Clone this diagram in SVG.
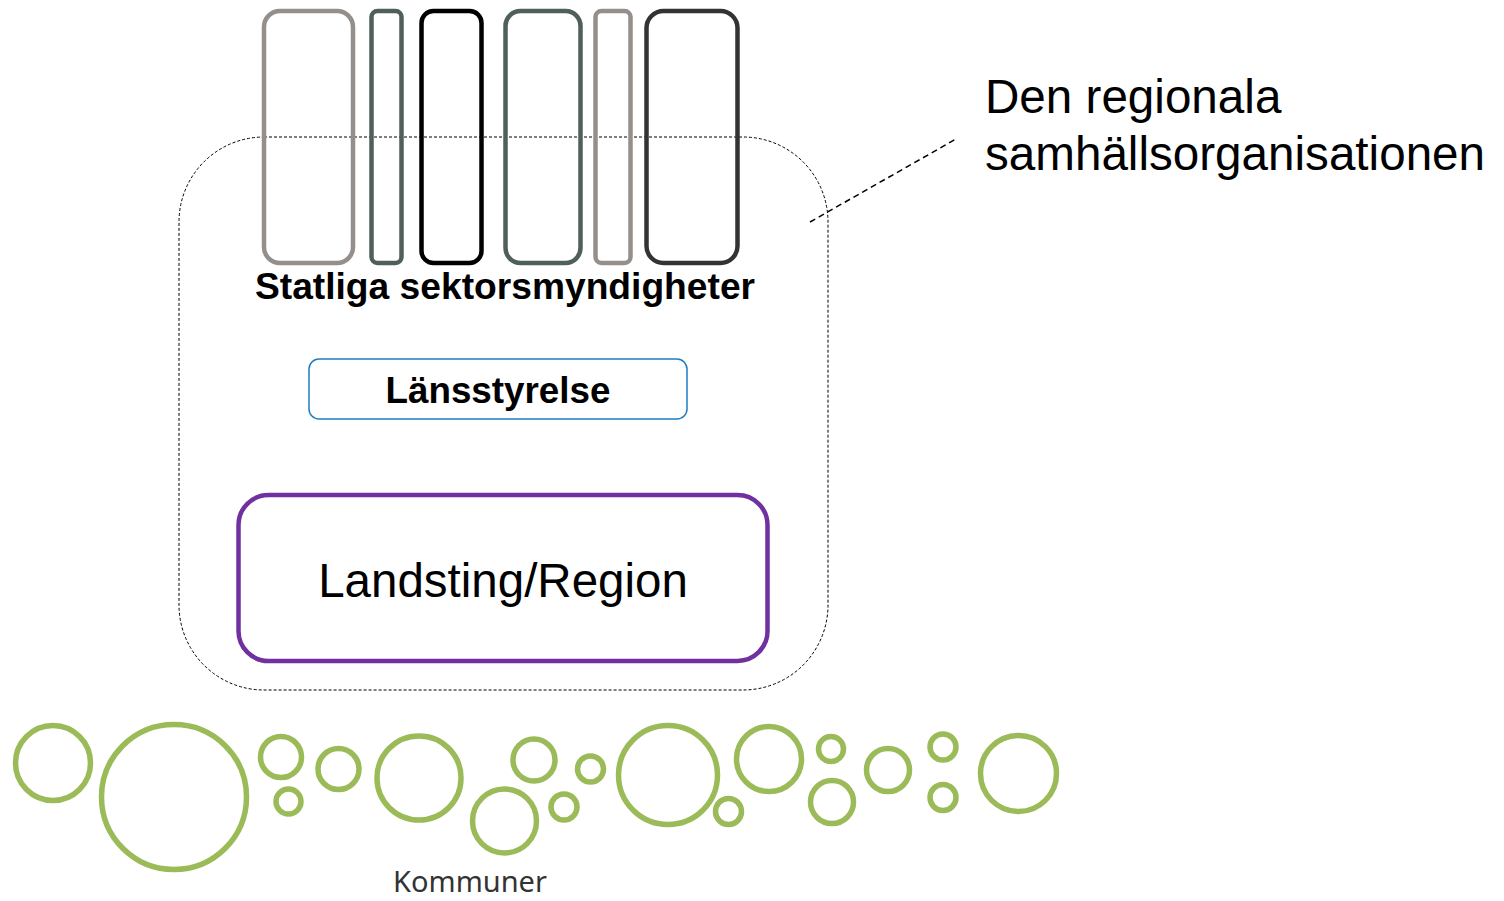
<svg xmlns="http://www.w3.org/2000/svg" width="1504" height="901" viewBox="0 0 1504 901">
<style>
.bar{fill:none;stroke-width:4.5}
.gray{stroke:#958F8B}
.slate{stroke:#4E5F5C}
.blk{stroke:#000}
.dk{stroke:#333333}
.c{fill:none;stroke:#9BBB59;stroke-width:5.5}
.t{font-family:"Liberation Sans",Arial,sans-serif;fill:#000}
</style>
<rect width="1504" height="901" fill="#fff"/>
<g id="region-boundary">
<rect x="179" y="137" width="649" height="553" rx="85" ry="85" fill="none" stroke="#000" stroke-width="1" stroke-dasharray="3,2"/>
</g>
<g id="sektorsmyndigheter">
<rect class="bar gray" x="264" y="11" width="89" height="252" rx="16"/>
<rect class="bar slate" x="371.5" y="11" width="30" height="252" rx="6"/>
<rect class="bar blk" x="421.5" y="11" width="60" height="252" rx="12"/>
<rect class="bar slate" x="505.5" y="11" width="75" height="252" rx="15"/>
<rect class="bar gray" x="595.5" y="11" width="35" height="252" rx="6"/>
<rect class="bar dk" x="646.5" y="11" width="91" height="252" rx="17"/>
<text class="t" x="505" y="299" font-size="37.2" font-weight="bold" text-anchor="middle">Statliga sektorsmyndigheter</text>
</g>
<g id="lansstyrelse">
<rect x="309" y="359" width="378" height="60" rx="10" fill="none" stroke="#1B7EC2" stroke-width="1.5"/>
<text class="t" x="498" y="403" font-size="36.8" font-weight="bold" text-anchor="middle">Länsstyrelse</text>
</g>
<g id="landsting">
<rect x="238.5" y="495" width="529" height="166" rx="30" fill="none" stroke="#7030A0" stroke-width="4.5"/>
<text class="t" x="503" y="597" font-size="47.5" text-anchor="middle">Landsting/Region</text>
</g>
<g id="label">
<text class="t" x="985" y="113" font-size="47.6">Den regionala</text>
<text class="t" x="985" y="170" font-size="47.6">samhällsorganisationen</text>
</g>
<g id="connectors">
<line x1="810" y1="222" x2="956" y2="139" stroke="#000" stroke-width="1.5" stroke-dasharray="6,4"/>
</g>
<g id="kommuner">
<circle class="c" cx="53" cy="763" r="37.5"/>
<circle class="c" cx="174" cy="797" r="72.5"/>
<circle class="c" cx="281" cy="757" r="20.5"/>
<circle class="c" cx="288.5" cy="801.5" r="12.5"/>
<circle class="c" cx="338.5" cy="769" r="20.5"/>
<circle class="c" cx="419" cy="778" r="42"/>
<circle class="c" cx="534" cy="760" r="21"/>
<circle class="c" cx="504.5" cy="821" r="32"/>
<circle class="c" cx="564" cy="807" r="13"/>
<circle class="c" cx="590.5" cy="769" r="13"/>
<circle class="c" cx="668" cy="775" r="49.5"/>
<circle class="c" cx="769" cy="759" r="32.5"/>
<circle class="c" cx="728.5" cy="811.5" r="13"/>
<circle class="c" cx="831" cy="749" r="12.5"/>
<circle class="c" cx="832" cy="802" r="21.5"/>
<circle class="c" cx="888" cy="770" r="21.5"/>
<circle class="c" cx="943" cy="747" r="13"/>
<circle class="c" cx="943" cy="797.5" r="13"/>
<circle class="c" cx="1018.5" cy="773.5" r="38"/>
<text x="470" y="892" font-family="'Noto Sans','Open Sans',sans-serif" font-size="29" fill="#333" text-anchor="middle">Kommuner</text>
</g>
</svg>
